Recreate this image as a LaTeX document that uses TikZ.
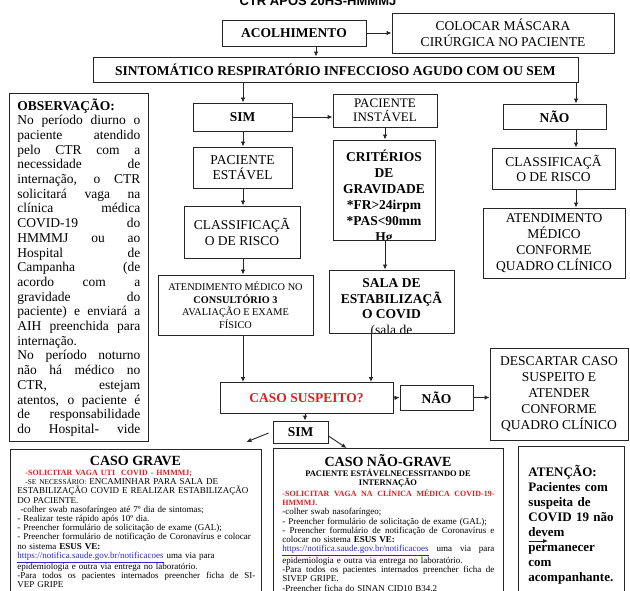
\documentclass[tikz,border=0pt]{standalone}
\usepackage{fontspec}
\setmainfont{Liberation Serif}
\newfontfamily\titlefont{Liberation Sans}
\usetikzlibrary{arrows.meta,positioning}
\definecolor{alertred}{RGB}{225,30,35}
\definecolor{linkblue}{RGB}{40,40,200}
\newcommand{\jline}[1]{\makebox[\linewidth][s]{\spaceskip=0pt\xspaceskip=0pt\relax#1}}

\tikzset{
  box/.style={draw=black!85, line width=0.9pt, fill=white, align=center, inner sep=0pt},
  plain/.style={draw=none, fill=none, inner sep=0pt, minimum width=0pt, minimum height=0pt},
  link/.style={draw=black!85, line width=0.9pt, -{Latex[length=5pt,width=4.5pt]}},
  capsB/.style={font=\fontsize{13.5}{15}\selectfont\bfseries},
  caps/.style={font=\fontsize{13.5}{15.5}\selectfont},
  small/.style={font=\fontsize{9}{9.2}\selectfont},
}

\begin{document}
\begin{tikzpicture}[x=1pt,y=-1pt]
	\useasboundingbox (0,0) rectangle (630,591);

	% Title
	\node[plain, anchor=base, font=\titlefont\bfseries\fontsize{13}{15}\selectfont] (title) at (318,5.5) {CTR APÓS 20HS-HMMMJ};

	% Reception
	\node[box,capsB,minimum width=144,minimum height=26] (acol) at (294,33) {ACOLHIMENTO};
	\node[box,caps,minimum width=222,minimum height=40] (mask) at (503,33) {COLOCAR MÁSCARA\\CIRÚRGICA NO PACIENTE};
	\node[box,capsB,minimum width=485,minimum height=25] (sint) at (335.5,69.5) {SINTOMÁTICO RESPIRATÓRIO INFECCIOSO AGUDO COM OU SEM};
		\draw[link] (acol) -- (mask);
		\draw[link] (316,0 |- acol.south) -- (316,0 |- sint.north);

	% Note
	\node[box,minimum width=139,minimum height=348,path picture={
		\node[plain,anchor=north west,text width=123,align=left,font=\fontsize{13.5}{14.7}\selectfont]
			at ([xshift=8pt,yshift=-5pt]path picture bounding box.north west) {\textbf{OBSERVAÇÃO:}\\
			\jline{No período diurno o}\\ \jline{paciente atendido}\\ \jline{pelo CTR com a}\\
			\jline{necessidade de}\\ \jline{internação, o CTR}\\ \jline{solicitará vaga na}\\
			\jline{clínica médica}\\ \jline{COVID-19 do}\\ \jline{HMMMJ ou ao}\\
			\jline{Hospital de}\\ \jline{Campanha (de}\\ \jline{acordo com a}\\
			\jline{gravidade do}\\ \jline{paciente) e enviará a}\\ \jline{AIH preenchida para}\\
			internação.\\ \jline{No período noturno}\\ \jline{não há médico no}\\
			\jline{CTR, estejam}\\ \jline{atentos, o paciente é}\\ \jline{de responsabilidade}\\
			\jline{do Hospital- vide}};}] (obs) at (78.5,267) {};

	% Left branch
	\node[box,capsB,minimum width=99,minimum height=28] (simA) at (242.5,117) {SIM};
	\node[box,caps,minimum width=99,minimum height=41] (estavel) at (242.5,167.5) {PACIENTE\\ESTÁVEL};
	\node[box,caps,minimum width=116,minimum height=52] (classL) at (242,232) {CLASSIFICAÇÃ\\O DE RISCO};
	\node[box,minimum width=155,minimum height=60,font=\fontsize{10.3}{12.7}\selectfont] (consult) at (235.5,305) {ATENDIMENTO MÉDICO NO\\\textbf{CONSULTÓRIO 3}\\AVALIAÇÃO E EXAME\\FÍSICO};
		\draw[link] (243,0 |- sint.south) -- (243,0 |- simA.north);
		\draw[link] (243,0 |- simA.south) -- (243,0 |- estavel.north);
		\draw[link] (243,0 |- estavel.south) -- (243,0 |- classL.north);
		\draw[link] (243,0 |- classL.south) -- (243,0 |- consult.north);

	% Middle branch
	\node[box,font=\fontsize{13}{13.5}\selectfont,minimum width=104,minimum height=33] (instavel) at (385,110.5) {PACIENTE\\INSTÁVEL};
	\node[box,minimum width=102,minimum height=100,path picture={
		\node[plain,anchor=north,align=center,font=\fontsize{13.5}{16}\selectfont\bfseries]
			at ([yshift=-9pt]path picture bounding box.north) {CRITÉRIOS\\DE\\GRAVIDADE\\*FR>24irpm\\*PAS<90mm\\Hg};}] (crit) at (384,190) {};
	\node[box,minimum width=125,minimum height=63,path picture={
		\node[plain,anchor=north,align=center,font=\fontsize{13.5}{15.8}\selectfont\bfseries]
			at ([yshift=-8pt]path picture bounding box.north) {SALA DE\\ESTABILIZAÇÃ\\O COVID\\\mdseries(sala de};}] (sala) at (391.5,301.5) {};
		\draw[link] (simA.east) -- (simA.east -| instavel.west);
		\draw[link] (385,0 |- instavel.south) -- (385,0 |- crit.north);
		\draw[link] (385,0 |- crit.south) -- (385,0 |- sala.north);

	% Right branch
	\node[box,capsB,minimum width=103,minimum height=25] (naoA) at (554.5,116.5) {NÃO};
	\node[box,caps,minimum width=123,minimum height=41] (classR) at (553.5,168.5) {CLASSIFICAÇÃ\\O DE RISCO};
	\node[box,font=\fontsize{13.5}{16}\selectfont,minimum width=142,minimum height=70] (atendR) at (554,243) {ATENDIMENTO\\MÉDICO\\CONFORME\\QUADRO CLÍNICO};
		\draw[link] (576,0 |- sint.south) -- (576,0 |- naoA.north);
		\draw[link] (576,0 |- naoA.south) -- (576,0 |- classR.north);
		\draw[link] (576,0 |- classR.south) -- (576,0 |- atendR.north);

	% Suspect case
	\node[box,capsB,text=alertred,minimum width=173,minimum height=31] (susp) at (306.5,398) {CASO SUSPEITO?};
	\node[box,capsB,minimum width=73,minimum height=25] (naoB) at (436.5,397.5) {NÃO};
	\node[box,font=\fontsize{13.5}{16}\selectfont,minimum width=138,minimum height=92] (descartar) at (559,394) {DESCARTAR CASO\\SUSPEITO E\\ATENDER\\CONFORME\\QUADRO CLÍNICO};
	\node[box,capsB,minimum width=55,minimum height=22] (simB) at (300.5,432) {SIM};
		\draw[link] (243,0 |- consult.south) -- (243,0 |- susp.north);
		\draw[link] (371,0 |- sala.south) -- (371,0 |- susp.north);
		\draw[link] (susp.east) -- (naoB.west);
		\draw[link] (naoB.east) -- (naoB.east -| descartar.west);
		\draw[link] (305,0 |- susp.south) -- (305,0 |- simB.north);

	% Severe / non-severe
	\node[box,minimum width=251,minimum height=170,anchor=north,path picture={
		\node[plain,anchor=north,font=\fontsize{14}{16}\selectfont\bfseries] (graveT)
			at ([yshift=-6pt]path picture bounding box.north) {CASO GRAVE};
		\node[plain,small,anchor=north west,text width=238,align=left]
			at ([xshift=7pt,yshift=-4pt]graveT.south -| path picture bounding box.west) {%
			\hspace*{8pt}{\color{alertred}\bfseries\fontsize{8}{9.2}\selectfont -SOLICITAR VAGA UTI\ \ COVID - HMMMJ;}\\
			\hspace*{8pt}{\fontsize{7.3}{9.2}\selectfont -SE NECESSÁRIO:} ENCAMINHAR PARA SALA DE\\
			ESTABILIZAÇÃO COVID E REALIZAR ESTABILIZAÇÃO\\
			DO PACIENTE.\\
			\hspace*{3pt}-colher swab nasofaríngeo até 7º dia de sintomas;\\
			- Realizar teste rápido após 10º dia.\\
			- Preencher formulário de solicitação de exame (GAL);\\
			- Preencher formulário de notificação de Coronavírus e colocar\\
			no sistema \textbf{ESUS VE:}\\
			{\color{linkblue}\underline{https://notifica.saude.gov.br/notificacoes}} uma via para\\
			epidemiologia e outra via entrega no laboratório.\\
			\jline{-Para todos os pacientes internados preencher ficha de SI-}\\
			VEP GRIPE};}] (grave) at (135.5,449) {};
	\node[box,minimum width=230,minimum height=170,anchor=north,path picture={
		\node[plain,anchor=north,align=center,font=\fontsize{14}{16}\selectfont\bfseries] (naoT)
			at ([yshift=-6pt]path picture bounding box.north) {CASO NÃO-GRAVE};
		\node[plain,anchor=north,align=center,font=\fontsize{8.5}{9.3}\selectfont\bfseries] (naoS)
			at ([yshift=-1pt]naoT.south) {PACIENTE ESTÁVELNECESSITANDO DE\\INTERNAÇÃO};
		\node[plain,anchor=north west,text width=212,align=left,font=\fontsize{9}{9.3}\selectfont]
			at ([xshift=9pt,yshift=-1pt]naoS.south -| path picture bounding box.west) {%
			{\color{alertred}\bfseries\fontsize{8}{9.3}\selectfont \jline{-SOLICITAR VAGA NA CLÍNICA MÉDICA COVID-19-}\\HMMMJ.}\\
			-colher swab nasofaríngeo;\\
			- Preencher formulário de solicitação de exame (GAL);\\
			\jline{- Preencher formulário de notificação de Coronavírus e}\\
			colocar no sistema \textbf{ESUS VE:}\\
			\jline{{\color{linkblue}\underline{https://notifica.saude.gov.br/notificacoes}} uma via para}\\
			epidemiologia e outra via entrega no laboratório.\\
			\jline{-Para todos os pacientes internados preencher ficha de}\\
			SIVEP GRIPE.\\
			-Preencher ficha do SINAN CID10 B34.2};}] (naograve) at (388,448) {};
		\draw[link] ([xshift=-4pt,yshift=-1pt]simB.west) -- ([xshift=-15pt,yshift=7pt]grave.north east);
		\draw[link] ([yshift=-4pt]simB.east) -- ([xshift=74pt]naograve.north west);

	% Warning
	\node[box,minimum width=106,minimum height=170,anchor=north,path picture={
		\node[plain,anchor=north west,text width=95,align=left,font=\fontsize{13}{15}\selectfont\bfseries]
			at ([xshift=10pt,yshift=-18pt]path picture bounding box.north west) {ATENÇÃO:\\Pacientes com\\suspeita de\\COVID 19 não\\devem\\permanecer\\com\\acompanhante.};}] (atencao) at (571,446) {};
	\coordinate (tipA) at (529,541);
	\coordinate (tipB) at (548,541);
		\draw[link] (tipA) -- (tipB);

\end{tikzpicture}
\end{document}
